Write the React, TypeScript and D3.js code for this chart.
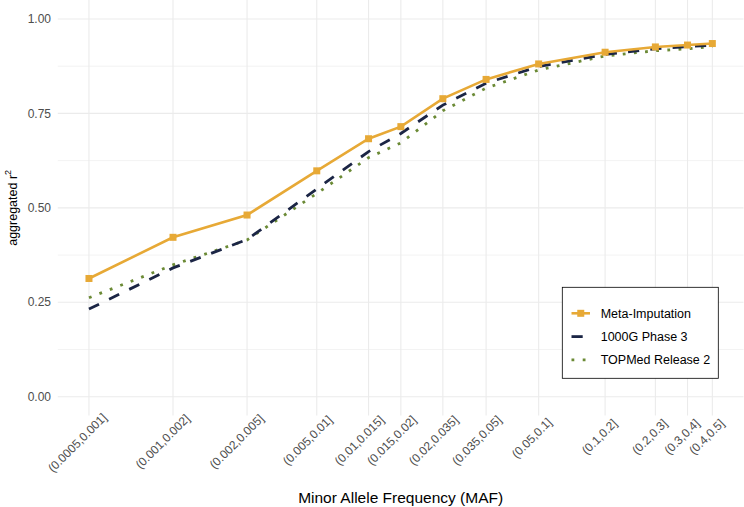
import React from "react";
import * as d3 from "d3";

const categories = [
  "(0.0005,0.001]", "(0.001,0.002]", "(0.002,0.005]", "(0.005,0.01]",
  "(0.01,0.015]", "(0.015,0.02]", "(0.02,0.035]", "(0.035,0.05]",
  "(0.05,0.1]", "(0.1,0.2]", "(0.2,0.3]", "(0.3,0.4]", "(0.4,0.5]",
];
// representative (mean) MAF of each bin, used for the log-scaled x position
const binMeanMAF = [0.00085, 0.00198, 0.00417, 0.00841, 0.01416, 0.0196, 0.0299, 0.0462, 0.0784, 0.153, 0.2537, 0.3506, 0.45];
const metaImputation = [0.313, 0.422, 0.481, 0.598, 0.683, 0.715, 0.789, 0.840, 0.881, 0.912, 0.926, 0.931, 0.935];
const g1000Phase3 = [0.232, 0.341, 0.416, 0.550, 0.649, 0.697, 0.772, 0.830, 0.874, 0.906, 0.921, 0.927, 0.930];
const topmedRelease2 = [0.262, 0.349, 0.415, 0.538, 0.633, 0.672, 0.757, 0.817, 0.865, 0.902, 0.916, 0.921, 0.927];
const yTicks = [0, 0.25, 0.5, 0.75, 1.0];
const yMinor = [0.125, 0.375, 0.625, 0.875];
const seriesNames = ["Meta-Imputation", "1000G Phase 3", "TOPMed Release 2"];

const FONT = "'Liberation Sans', Arial, Helvetica, sans-serif";
const COL_META = "#E7A936";
const COL_1000G = "#1B2545";
const COL_TOP = "#6B8A35";
const LW = 2.8;

let _ctx: CanvasRenderingContext2D | null = null;
function textWidth(s: string, font: string) {
  if (!_ctx) _ctx = document.createElement("canvas").getContext("2d");
  if (!_ctx) return s.length * 6;
  _ctx.font = font;
  return _ctx.measureText(s).width;
}

export default function App() {
  const W = 744, H = 507;
  const panel = { left: 57.8, right: 743.5, top: 0.1, bottom: 415.6 };

  const lmin = Math.log10(d3.min(binMeanMAF)!);
  const lmax = Math.log10(d3.max(binMeanMAF)!);
  const lexp = (lmax - lmin) * 0.05;
  const x = d3.scaleLog()
    .domain([Math.pow(10, lmin - lexp), Math.pow(10, lmax + lexp)])
    .range([panel.left, panel.right]);
  const y = d3.scaleLinear().domain([-0.05, 1.05]).range([panel.bottom, panel.top]);

  const pts = (vals: number[]) => vals.map((v, i) => [binMeanMAF[i], v] as [number, number]);
  const line = d3.line<[number, number]>().x(d => x(d[0])).y(d => y(d[1]));

  const tickFont = `12px ${FONT}`;
  const s2 = Math.SQRT1_2;
  const hFrac = 0.75;

  return (
    <svg width={W} height={H} style={{ position: "absolute", left: 0, top: 0, background: "#fff" }} fontFamily={FONT}>
      <rect x={0} y={0} width={W} height={H} fill="#fff" />
      {/* grid */}
      {yMinor.map(v => (
        <line key={"ym" + v} x1={panel.left} x2={panel.right} y1={y(v)} y2={y(v)} stroke="#EBEBEB" strokeWidth={0.6} />
      ))}
      {yTicks.map(v => (
        <line key={"yt" + v} x1={panel.left} x2={panel.right} y1={y(v)} y2={y(v)} stroke="#EBEBEB" strokeWidth={1.1} />
      ))}
      {binMeanMAF.map((m, i) => (
        <line key={"xg" + i} x1={x(m)} x2={x(m)} y1={panel.top} y2={panel.bottom} stroke="#EBEBEB" strokeWidth={1.1} />
      ))}

      {/* series */}
      <path d={line(pts(topmedRelease2))!} fill="none" stroke={COL_TOP} strokeWidth={LW} strokeDasharray={`${LW} ${LW * 3}`} />
      <path d={line(pts(g1000Phase3))!} fill="none" stroke={COL_1000G} strokeWidth={LW} strokeDasharray={`${LW * 4} ${LW * 4}`} />
      <path d={line(pts(metaImputation))!} fill="none" stroke={COL_META} strokeWidth={2.6} />
      {metaImputation.map((v, i) => (
        <rect key={"m" + i} x={x(binMeanMAF[i]) - 3.5} y={y(v) - 3.5} width={7} height={7} fill={COL_META} />
      ))}

      {/* y axis labels */}
      {yTicks.map(v => (
        <text key={"yl" + v} x={51} y={y(v)} dy="0.35em" textAnchor="end" fontSize={12} fill="#4D4D4D">{v.toFixed(2)}</text>
      ))}
      {/* x axis labels */}
      {categories.map((c, i) => {
        const w = textWidth(c, tickFont);
        const ax = x(binMeanMAF[i]) + 5;
        const ay = 432;
        const sx = ax - hFrac * w * s2;
        const sy = ay + hFrac * w * s2;
        return (
          <text key={"xl" + i} x={0} y={0} transform={`translate(${sx},${sy}) rotate(-45)`} fontSize={12} fill="#4D4D4D">{c}</text>
        );
      })}

      {/* axis titles */}
      <text x={(panel.left + panel.right) / 2} y={503} textAnchor="middle" fontSize={15.5} fill="#000">Minor Allele Frequency (MAF)</text>
      <text transform={`translate(17,${(panel.top + panel.bottom) / 2}) rotate(-90)`} textAnchor="middle" fontSize={12.5} fill="#000">
        aggregated r<tspan dy={-6} fontSize={9}>2</tspan>
      </text>

      {/* legend */}
      <g>
        <rect x={562.3} y={287.3} width={156} height={91} fill="#fff" stroke="#000" strokeWidth={0.8} />
        {seriesNames.map((n, i) => {
          const cy = 313.3 + i * 23.3;
          const kx1 = 571.5, kx2 = 590;
          return (
            <g key={"lg" + i}>
              {i === 0 && (
                <>
                  <line x1={kx1} x2={kx2} y1={cy} y2={cy} stroke={COL_META} strokeWidth={2.6} />
                  <rect x={(kx1 + kx2) / 2 - 3.5} y={cy - 3.5} width={7} height={7} fill={COL_META} />
                </>
              )}
              {i === 1 && (
                <line x1={kx1} x2={kx2} y1={cy} y2={cy} stroke={COL_1000G} strokeWidth={LW} strokeDasharray={`${LW * 4} ${LW * 4}`} />
              )}
              {i === 2 && (
                <line x1={kx1} x2={kx2} y1={cy} y2={cy} stroke={COL_TOP} strokeWidth={LW} strokeDasharray={`${LW} ${LW * 3}`} />
              )}
              <text x={600.7} y={cy} dy="0.35em" fontSize={12.5} fill="#000">{n}</text>
            </g>
          );
        })}
      </g>
    </svg>
  );
}
